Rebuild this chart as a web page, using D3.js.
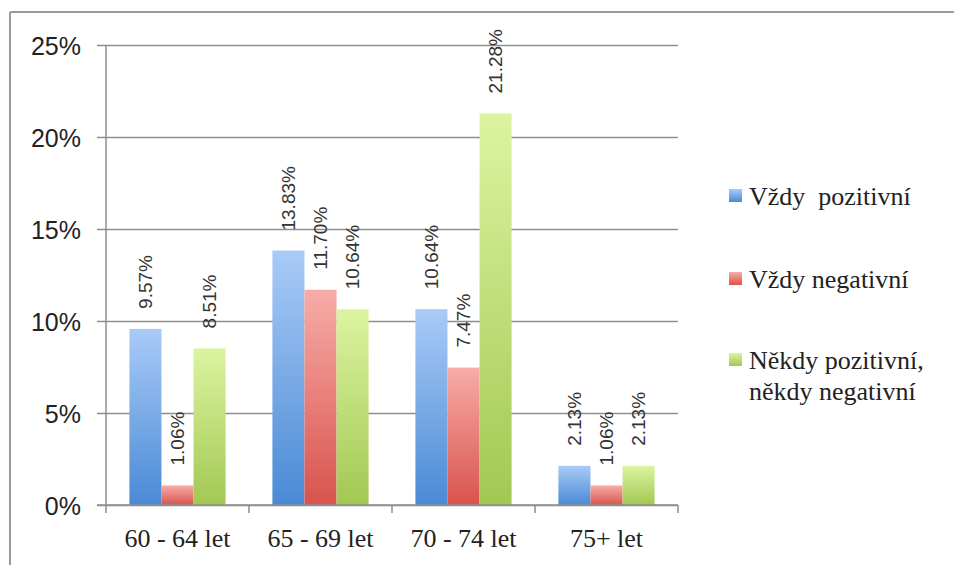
<!DOCTYPE html>
<html>
<head>
<meta charset="utf-8">
<script src="https://cdn.jsdelivr.net/npm/d3@7"></script>
<style>
  html, body { margin: 0; padding: 0; background: #fff; }
  svg { display: block; }
</style>
</head>
<body>
<svg id="chart" width="954" height="565"></svg>
<script>
// Age groups on the x axis
const categories = ["60 - 64 let", "65 - 69 let", "70 - 74 let", "75+ let"];
// Series names, as shown in the legend
const seriesNames = ["Vždy  pozitivní", "Vždy negativní", "Někdy pozitivní, někdy negativní"];
// Percentages per age group, one array per series
const vzdyPozitivni = [9.57, 13.83, 10.64, 2.13];
const vzdyNegativni = [1.06, 11.70, 7.47, 1.06];
const nekdyObojí = [8.51, 10.64, 21.28, 2.13];
// Y axis ticks (percent)
const yTicks = [0, 5, 10, 15, 20, 25];

const seriesValues = [vzdyPozitivni, vzdyNegativni, nekdyObojí];
const seriesKeys = ["s0", "s1", "s2"];

// Bar gradients: light top, darker bottom
const palette = [
  { top: "#a9cbf7", bottom: "#4a8ad5" },
  { top: "#f8aca8", bottom: "#d8534d" },
  { top: "#dcf4a0", bottom: "#a2c853" }
];

const svg = d3.select("#chart");
const defs = svg.append("defs");
palette.forEach((c, i) => {
  const g = defs.append("linearGradient")
    .attr("id", "grad" + i)
    .attr("x1", 0).attr("y1", 0).attr("x2", 0).attr("y2", 1);
  g.append("stop").attr("offset", "0%").attr("stop-color", c.top);
  g.append("stop").attr("offset", "100%").attr("stop-color", c.bottom);
});

// Frame around the chart (top and left edges visible)
const frame = svg.append("g").attr("stroke", "#9a9a9a").attr("stroke-width", 2);
frame.append("line").attr("x1", 10).attr("y1", 12).attr("x2", 954).attr("y2", 12);
frame.append("line").attr("x1", 10).attr("y1", 12).attr("x2", 10).attr("y2", 565);

const plot = { left: 106, right: 678, top: 45, bottom: 505 };

const y = d3.scaleLinear().domain([0, 25]).range([plot.bottom, plot.top]);
const x0 = d3.scaleBand().domain(categories).range([plot.left, plot.right]).padding(0);
const x1 = d3.scaleBand().domain(seriesKeys).range([0, x0.bandwidth()])
  .paddingInner(0).paddingOuter(0.73);

const gridColor = "#8e8e8e";

// Horizontal gridlines with left tick stubs
const yAxis = d3.axisLeft(y)
  .tickValues(yTicks)
  .tickSize(plot.right - plot.left + 9)
  .tickFormat(d => d + "%");
const yG = svg.append("g")
  .attr("transform", `translate(${plot.right},0)`)
  .call(yAxis);
yG.select(".domain").remove();
yG.selectAll(".tick line").attr("stroke", gridColor).attr("stroke-width", 1.5);
yG.selectAll(".tick text")
  .attr("x", -(plot.right - plot.left) - 25)
  .attr("dy", "0.36em")
  .attr("fill", "#222")
  .style("font-family", "'Liberation Sans', 'DejaVu Sans', sans-serif")
  .style("font-size", "25px");

// Vertical axis line
svg.append("line")
  .attr("x1", plot.left).attr("x2", plot.left)
  .attr("y1", y(25)).attr("y2", y(0))
  .attr("stroke", gridColor).attr("stroke-width", 1.5);

// Bars
const groups = svg.append("g").selectAll("g")
  .data(categories)
  .join("g")
  .attr("transform", d => `translate(${x0(d)},0)`);

const fmt = d3.format(".2f");

groups.each(function(cat, ci) {
  const g = d3.select(this);
  seriesKeys.forEach((k, si) => {
    const v = seriesValues[si][ci];
    g.append("rect")
      .attr("x", x1(k))
      .attr("y", y(v))
      .attr("width", x1.bandwidth())
      .attr("height", y(0) - y(v))
      .attr("fill", `url(#grad${si})`);
  });
});

// X axis line with ticks between groups
const xAxisLine = svg.append("g");
xAxisLine.append("line")
  .attr("x1", plot.left - 9).attr("x2", plot.right)
  .attr("y1", y(0)).attr("y2", y(0))
  .attr("stroke", gridColor).attr("stroke-width", 1.5);
xAxisLine.selectAll("line.sep")
  .data(categories.concat([null]))
  .join("line")
  .attr("class", "sep")
  .attr("x1", (d, i) => i < categories.length ? x0(d) : plot.right)
  .attr("x2", (d, i) => i < categories.length ? x0(d) : plot.right)
  .attr("y1", y(0)).attr("y2", y(0) + 8)
  .attr("stroke", gridColor).attr("stroke-width", 1.5);

// Category labels
svg.append("g").selectAll("text")
  .data(categories)
  .join("text")
  .attr("x", d => x0(d) + x0.bandwidth() / 2)
  .attr("y", 547)
  .attr("text-anchor", "middle")
  .attr("fill", "#222")
  .style("font-family", "'Liberation Serif', 'DejaVu Serif', serif")
  .style("font-size", "26px")
  .text(d => d);

// Rotated value labels above each bar
groups.each(function(cat, ci) {
  const g = d3.select(this);
  seriesKeys.forEach((k, si) => {
    const v = seriesValues[si][ci];
    const cx = x1(k) + x1.bandwidth() / 2;
    const ty = y(v) - 20;
    g.append("text")
      .attr("transform", `translate(${cx},${ty}) rotate(-90)`)
      .attr("text-anchor", "start")
      .attr("dy", "0.36em")
      .attr("fill", "#333")
      .style("font-family", "'Liberation Sans', 'DejaVu Sans', sans-serif")
      .style("font-size", "19px")
      .text(fmt(v) + "%");
  });
});

// Legend
const legendLines = [
  [seriesNames[0]],
  [seriesNames[1]],
  ["Někdy pozitivní,", "někdy negativní"]
];
const legendBaselines = [205, 288, 369];
const legend = svg.append("g");
legendLines.forEach((lines, i) => {
  const by = legendBaselines[i];
  legend.append("rect")
    .attr("x", 729).attr("y", by - 16)
    .attr("width", 13).attr("height", 13)
    .attr("fill", `url(#grad${i})`);
  const t = legend.append("text")
    .attr("x", 749).attr("y", by)
    .attr("fill", "#222")
    .style("font-family", "'Liberation Serif', 'DejaVu Serif', serif")
    .style("font-size", "26px")
    .style("white-space", "pre");
  lines.forEach((line, li) => {
    t.append("tspan").attr("x", 749).attr("dy", li === 0 ? 0 : 31).text(line);
  });
});
</script>
</body>
</html>
